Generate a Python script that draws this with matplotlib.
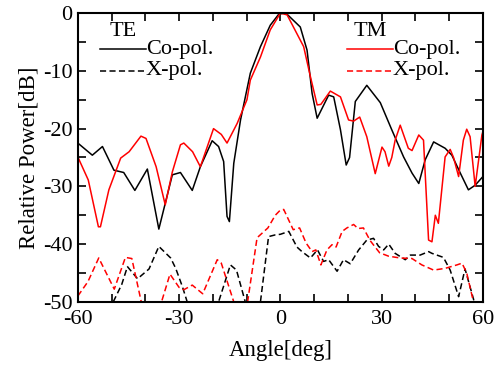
import numpy as np
import matplotlib.pyplot as plt
from matplotlib.lines import Line2D

plt.rcParams['font.family'] = ['Liberation Serif', 'DejaVu Serif']

# TE co-polarization (black solid)
te_co_ang = [-60, -55.7, -52.7, -49.3, -46.4, -43.1, -39.4, -36, -32, -29.6, -26.1,
             -23.7, -20.2, -18.3, -16.8, -15.8, -15.1, -13.8, -11.8, -8.9, -5.9, -3,
             -0.5, 1, 2, 5.9, 7.9, 9.4, 10.9, 14.3, 15.8, 17.8, 19.5, 20.5, 22.2, 25.6,
             29.6, 33, 36.5, 39, 41, 42.9, 45.4, 48.8, 50.8, 53.3, 55.7, 57.7, 60]
te_co_db = [-22.5, -24.6, -23.1, -27.2, -27.6, -30.7, -27, -37.4, -28, -27.6, -30.7,
            -26.6, -22.1, -23.1, -25.7, -35.2, -36.1, -26, -18.5, -10.4, -5.8, -2.1,
            -0.2, 0, -0.2, -2.4, -6.4, -13.9, -18.2, -14.2, -14.5, -20.2, -26.3, -25,
            -15.3, -12.5, -15.5, -20.2, -24.9, -27.7, -29.5, -25.4, -22.3, -23.4, -24.6,
            -27.7, -30.6, -29.8, -28.3]

# TE cross-polarization (black dashed)
te_x_ang = [-54, -49.5, -47, -45.3, -42.3, -38.9, -36, -32.5, -31, -29, -27.6, -26,
            -19.5, -18.3, -14.8, -13, -10.4, -9, -7, -5.9, -3.5, -1.5, 0, 2.5, 4.9,
            6.4, 8.9, 11, 12.8, 14.3, 16.8, 18.7, 20.7, 23.2, 25.6, 27.6, 29.1, 30.6,
            32.1, 34, 37, 38.5, 41.4, 43.9, 44.9, 48.3, 50.3, 52.8, 54.7, 57.2, 58.5]
te_x_db = [-56, -50, -47, -43.9, -46, -44.3, -40.4, -42.4, -44.2, -47.4, -50, -54,
           -54, -50, -43.6, -44.5, -50, -54, -54, -50, -38.7, -38.4, -38.3, -37.8,
           -40.5, -41.3, -42.4, -41, -43, -42.7, -44.7, -42.7, -43.4, -41, -39.3, -39,
           -40.4, -41, -40, -41.6, -42.7, -41.9, -41.9, -41.3, -41.6, -42.3, -44.5,
           -49.1, -44.3, -49.5, -53]

# TM co-polarization (red solid)
tm_co_ang = [-60, -56.9, -53.9, -53.3, -50.8, -47.3, -44.8, -41.3, -39.8, -36.8, -34.1,
             -32, -29.6, -28.6, -26, -23.7, -19.8, -17.5, -15.8, -12.8, -9.9, -8.9,
             -5.9, -3, 0, 2, 6.9, 8.9, 10.9, 12, 14.8, 17.8, 20.2, 21.7, 23.5, 25.6,
             28.1, 30.1, 31, 32.1, 33, 34, 35.5, 37.9, 39, 41, 42.4, 43.9, 44.9, 45.9,
             46.8, 48.8, 50.3, 51.3, 52.8, 54.2, 55.2, 56.2, 57.7, 59.7, 60]
tm_co_db = [-24.9, -28.9, -37, -37, -30.6, -25.1, -24, -21.3, -21.7, -26.6, -33.2,
            -27.5, -22.8, -22.5, -24, -26.6, -20, -21, -22.5, -19.1, -15, -11.6, -7.6,
            -2.9, 0, -0.3, -5.8, -11, -15.9, -15.8, -13.5, -14.5, -18.5, -18.7, -18,
            -21.4, -27.8, -23.2, -24, -26.5, -25, -22, -19.4, -23.4, -23.8, -21.1, -22,
            -39.3, -39.6, -35, -36.4, -24.9, -23.6, -25, -28.3, -22, -20.1, -21.4, -30,
            -21.1, -20.5]

# TM cross-polarization (red dashed)
tm_x_ang = [-60, -57, -53.8, -49.2, -45.9, -44, -41.2, -38, -35.2, -32.7, -30, -28.6,
            -26.1, -23, -18.7, -17.5, -13.8, -12, -10, -9.7, -6.9, -3.7, -1.5, 0, 1,
            3.8, 5.7, 7.6, 9.4, 10.5, 12, 13.8, 15.3, 16.5, 18.3, 19.7, 21.7, 23, 24.6,
            26.6, 29.4, 32.1, 35.5, 39, 41.9, 45.4, 48.8, 52.3, 53.8, 55.2, 57.2, 58.5]
tm_x_db = [-49, -46.5, -42.4, -47.8, -42.3, -42.5, -50, -56, -50, -45.2, -47.5, -47.9,
           -47.1, -48.6, -42.7, -43.3, -50, -54, -54, -50, -38.9, -37.2, -35, -34.1,
           -34, -37.5, -37.2, -39.8, -41.3, -41, -43.6, -41, -40.1, -40.5, -37.8, -37.2,
           -36.6, -37.3, -37.2, -39.4, -41.5, -42.1, -42.4, -42.5, -43.6, -44.5, -44.2,
           -43.6, -43.3, -45, -50, -53]

fig = plt.figure(figsize=(5.02, 3.65), dpi=100)
ax = fig.add_axes([0.155, 0.173, 0.807, 0.791])

lw = 1.1
dash = (4, 2.2)
ax.plot(te_co_ang, te_co_db, color='black', lw=lw)
ax.plot(te_x_ang, te_x_db, color='black', lw=lw, dashes=dash)
ax.plot(tm_co_ang, tm_co_db, color='red', lw=lw)
ax.plot(tm_x_ang, tm_x_db, color='red', lw=lw, dashes=dash)

ax.set_xlim(-60, 60)
ax.set_ylim(-50, 0)
xt = np.arange(-60, 61, 10)
ax.set_xticks(xt)
ax.set_xticklabels([str(v) if v % 30 == 0 else '' for v in xt])
yt = np.arange(-50, 1, 5)
ax.set_yticks(yt)
ax.set_yticklabels([str(v) if v % 10 == 0 else '' for v in yt])
ax.tick_params(direction='in', length=6, width=1.2, top=True, right=True,
               labelsize=16)
ax.tick_params(axis='x', pad=6)
ax.tick_params(axis='y', pad=4)
for s in ax.spines.values():
    s.set_linewidth(1.5)

ax.set_xlabel('Angle[deg]', fontsize=16.5, labelpad=8)
ax.set_ylabel('Relative Power[dB]', fontsize=16.5, labelpad=2)

# legend-like annotations
fs = 16
for x0, color, title in [(0.054, 'black', 'TE'), (0.664, 'red', 'TM')]:
    ax.text(x0 + 0.057, 0.935, title, transform=ax.transAxes, fontsize=fs,
            ha='center', va='center')
    ax.add_line(Line2D([x0, x0 + 0.114], [0.875, 0.875], transform=ax.transAxes,
                       color=color, lw=lw))
    ax.add_line(Line2D([x0, x0 + 0.114], [0.80, 0.80], transform=ax.transAxes,
                       color=color, lw=lw, dashes=dash))
    ax.text(x0 + 0.114, 0.875, 'Co-pol.', transform=ax.transAxes, fontsize=fs,
            ha='left', va='center')
    ax.text(x0 + 0.114, 0.80, 'X-pol.', transform=ax.transAxes, fontsize=fs,
            ha='left', va='center')

fig.savefig('out.png', dpi=100)
